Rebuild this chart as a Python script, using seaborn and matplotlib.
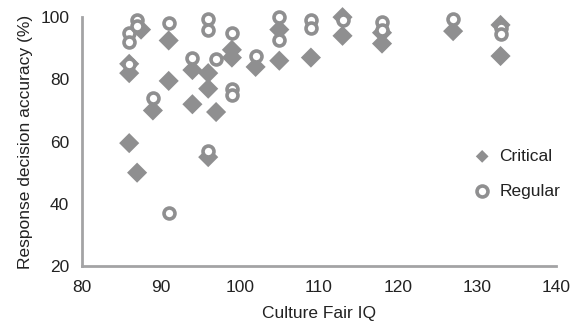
import pandas as pd
import matplotlib
matplotlib.use('Agg')
import matplotlib.pyplot as plt
import seaborn as sns

# 読み取った値 (Culture Fair IQ, 正答率%)
critical_iq = [86, 86, 86, 87, 87.5, 89, 91, 91, 94, 94, 96, 96, 96, 97, 99, 99,
               102, 105, 105, 109, 113, 113, 118, 118, 127, 133, 133]
critical_acc = [85, 82, 59.5, 50, 96, 70, 92.5, 79.5, 72, 83, 82, 77, 55, 69.5, 87, 89.5,
                84, 96, 86, 87, 100, 94, 95, 91.5, 95.5, 97.5, 87.5]
regular_iq = [86, 86, 86, 87, 87, 89, 91, 91, 94, 96, 96, 96, 97, 99, 99, 99,
              102, 105, 105, 109, 109, 113, 118, 118, 127, 133, 133]
regular_acc = [95, 92, 85, 99, 97, 74, 98, 37, 87, 99.5, 96, 57, 86.5, 95, 77, 75,
               87.5, 100, 92.5, 99, 96.5, 99, 98.5, 96, 99.5, 96.5, 94.5]

df_c = pd.DataFrame({'IQ': critical_iq, 'acc': critical_acc})
df_r = pd.DataFrame({'IQ': regular_iq, 'acc': regular_acc})

sns.set_style('white')
plt.rcParams['font.family'] = ['Liberation Sans', 'DejaVu Sans']
grey = '#8f8f90'
axis_grey = '#a3a3a5'
txt = '#222222'

fig, ax = plt.subplots(figsize=(5.76, 3.3), dpi=100)
fig.subplots_adjust(left=0.142, right=0.965, top=0.948, bottom=0.194)

sns.scatterplot(data=df_c, x='IQ', y='acc', marker='D', s=105, color=grey,
                edgecolor='none', label='Critical', ax=ax, zorder=3, clip_on=False)
sns.scatterplot(data=df_r, x='IQ', y='acc', marker='o', s=62, facecolor='white',
                edgecolor=grey, linewidth=2.6, label='Regular', ax=ax, zorder=4, clip_on=False)

ax.set_xlim(80, 140)
ax.set_ylim(20, 100)
ax.set_xticks(range(80, 141, 10))
ax.set_yticks(range(20, 101, 20))
ax.set_xlabel('Culture Fair IQ', fontsize=12.5, color=txt, labelpad=8)
ax.set_ylabel('Response decision accuracy (%)', fontsize=12.5, color=txt, labelpad=5)
ax.tick_params(axis='both', direction='out', length=4, width=1.2, color=axis_grey,
               labelsize=12.5, labelcolor=txt)
ax.tick_params(axis='x', pad=6)
ax.tick_params(axis='y', pad=5)
sns.despine(ax=ax)
for s in ['left', 'bottom']:
    ax.spines[s].set_color(axis_grey)
    ax.spines[s].set_linewidth(2)

leg = ax.legend(loc='center left', bbox_to_anchor=(0.775, 0.37), frameon=False,
                fontsize=12.5, labelspacing=1.15, handletextpad=0.0)
leg.legend_handles[0].set_sizes([42])
leg.legend_handles[1].set_sizes([62])
for t in leg.get_texts():
    t.set_color(txt)

fig.savefig('out.png', dpi=100)
